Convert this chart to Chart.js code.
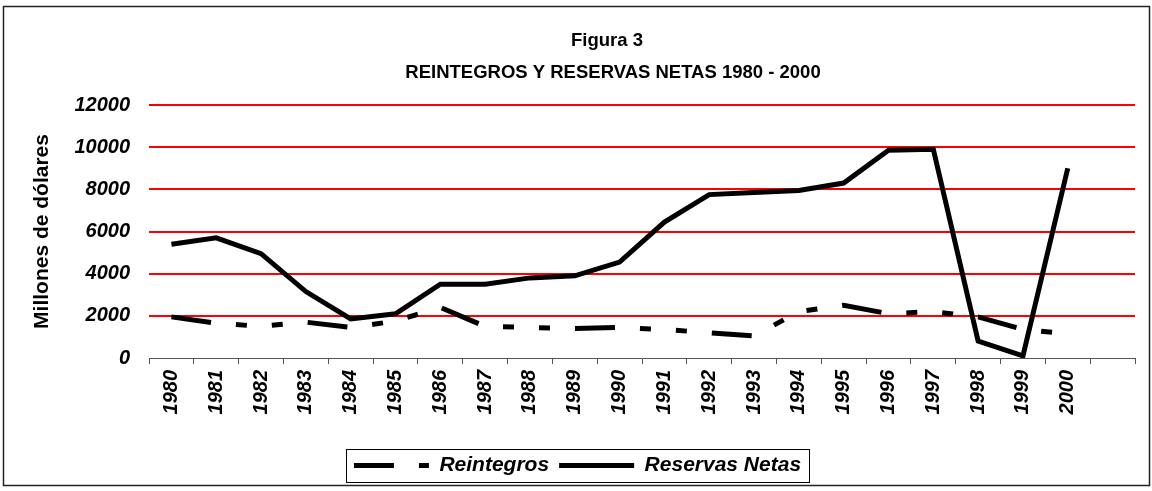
<!DOCTYPE html>
<html>
<head>
<meta charset="utf-8">
<script src="https://cdn.jsdelivr.net/npm/chart.js@4/dist/chart.umd.min.js"></script>
<style>
html,body{margin:0;padding:0;background:#fff;}
#wrap{position:relative;width:1152px;height:491px;}
</style>
</head>
<body>
<div id="wrap"><canvas id="c" width="1152" height="491"></canvas></div>
<script>
// ---- data ----
const titleLine1 = 'Figura 3';
const titleLine2 = 'REINTEGROS Y RESERVAS NETAS 1980 - 2000';
const yAxisTitle = 'Millones de dólares';
const years = ['1980','1981','1982','1983','1984','1985','1986','1987','1988','1989','1990',
               '1991','1992','1993','1994','1995','1996','1997','1998','1999','2000',''];
const seriesNames = ['Reintegros', 'Reservas Netas'];
const reintegros = [1950,1650,1500,1700,1450,1750,2400,1500,1450,1400,1450,
                    1350,1200,1050,2200,2500,2100,2200,1950,1350,1150];
const reservasNetas = [5400,5700,4950,3150,1850,2100,3500,3500,3800,3900,4550,
                       6450,7750,7850,7950,8300,9850,9900,800,100,9000];
const yMin = 0, yMax = 12000, yStep = 2000;

// ---- styling ----
const FAM = '"Liberation Sans", Arial, Helvetica, sans-serif';
const dashPattern = [40, 25, 11, 25, 11, 25];

const framePlugin = {
  id: 'frame',
  beforeDraw(chart) {
    const ctx = chart.ctx;
    ctx.save();
    ctx.fillStyle = '#fff';
    ctx.fillRect(0, 0, chart.width, chart.height);
    ctx.restore();
  },
  afterDraw(chart) {
    const ctx = chart.ctx;
    ctx.save();
    // outer frame
    ctx.strokeStyle = '#222';
    ctx.lineWidth = 1.5;
    ctx.strokeRect(3.5, 6.5, 1146, 479);
    // titles
    ctx.fillStyle = '#000';
    ctx.textAlign = 'center';
    ctx.textBaseline = 'middle';
    ctx.font = 'bold 18.5px ' + FAM;
    ctx.fillText(titleLine1, 607, 41);
    ctx.fillText(titleLine2, 613, 73);
    // legend frame
    const hb = chart.legend && chart.legend.legendHitBoxes;
    if (hb && hb.length) {
      let l = Infinity, r = -Infinity, cy = 0;
      hb.forEach(h => { l = Math.min(l, h.left); r = Math.max(r, h.left + h.width); cy += h.top + h.height / 2; });
      cy /= hb.length;
      ctx.strokeStyle = '#000';
      ctx.lineWidth = 1;
      ctx.strokeRect(Math.round(l - 8) + 0.5, Math.round(cy - 17) + 0.5, Math.round(r - l + 16), 33);
    }
    ctx.restore();
  }
};

new Chart(document.getElementById('c'), {
  type: 'line',
  data: {
    labels: years,
    datasets: [
      {
        label: seriesNames[0],
        data: reintegros,
        borderColor: '#000',
        backgroundColor: '#000',
        borderWidth: 5,
        borderDash: dashPattern,
        borderCapStyle: 'butt',
        borderJoinStyle: 'miter',
        pointRadius: 0,
        tension: 0,
        fill: false
      },
      {
        label: seriesNames[1],
        data: reservasNetas,
        borderColor: '#000',
        backgroundColor: '#000',
        borderWidth: 5,
        borderCapStyle: 'butt',
        borderJoinStyle: 'miter',
        pointRadius: 0,
        tension: 0,
        fill: false
      }
    ]
  },
  options: {
    responsive: false,
    animation: false,
    devicePixelRatio: 1,
    layout: { padding: { top: 105, left: 20, right: 17, bottom: 5 } },
    plugins: {
      title: { display: false },
      tooltip: { enabled: false },
      legend: {
        display: true,
        position: 'bottom',
        labels: {
          usePointStyle: true,
          pointStyle: 'line',
          pointStyleWidth: 75,
          padding: 10,
          color: '#000',
          font: { family: FAM, size: 21, weight: 'bold', style: 'italic' },
          generateLabels(chart) {
            const items = Chart.defaults.plugins.legend.labels.generateLabels(chart);
            items.forEach(it => {
              const ds = chart.data.datasets[it.datasetIndex];
              it.pointStyle = 'line';
              it.lineWidth = ds.borderWidth;
              it.strokeStyle = ds.borderColor;
              it.lineCap = 'butt';
              it.lineDash = ds.borderDash || [];
              it.lineDashOffset = 0;
            });
            return items;
          }
        }
      }
    },
    scales: {
      x: {
        type: 'category',
        offset: true,
        afterFit(scale) { scale.height = 87; },
        grid: {
          display: true,
          offset: true,
          drawOnChartArea: false,
          drawTicks: true,
          tickLength: 6,
          color: '#555',
          lineWidth: 1
        },
        border: { display: true, color: '#555', width: 1 },
        ticks: {
          autoSkip: false,
          minRotation: 90,
          maxRotation: 90,
          padding: 6,
          color: '#000',
          font: { family: FAM, size: 20, weight: 'bold', style: 'italic' }
        }
      },
      y: {
        min: yMin,
        max: yMax,
        afterFit(scale) { scale.width = 129; },
        grid: {
          drawTicks: false,
          color: ctx => (ctx.tick && ctx.tick.value === 0) ? 'rgba(0,0,0,0)' : '#ff0000',
          lineWidth: 2
        },
        border: { display: false },
        ticks: {
          stepSize: yStep,
          padding: 19,
          color: '#000',
          font: { family: FAM, size: 20, weight: 'bold', style: 'italic' },
          callback: v => String(v)
        },
        title: {
          display: true,
          text: yAxisTitle,
          color: '#000',
          padding: { top: 10, bottom: 0 },
          font: { family: FAM, size: 21, weight: 'bold' }
        }
      }
    }
  },
  plugins: [framePlugin]
});
</script>
</body>
</html>
